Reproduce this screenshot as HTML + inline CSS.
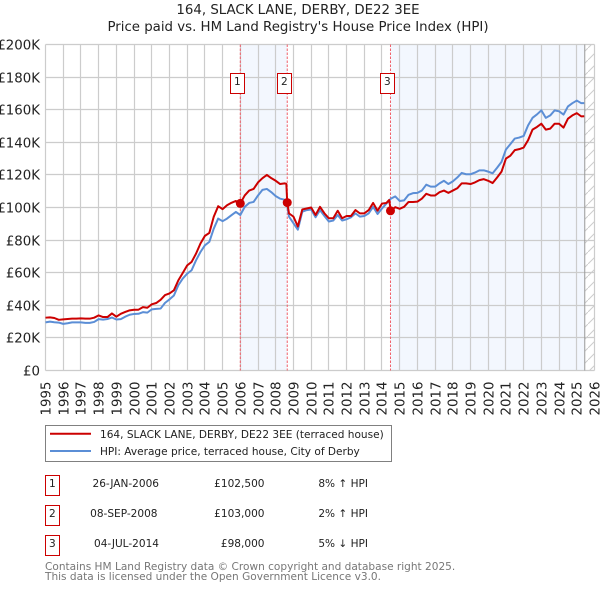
<!DOCTYPE html>
<html>
<head>
<meta charset="utf-8">
<style>
html,body{margin:0;padding:0;background:#fff;width:600px;height:590px;overflow:hidden}
svg{display:block;font-family:"DejaVu Sans","Liberation Sans",sans-serif}
</style>
</head>
<body>
<svg id="chart" xmlns="http://www.w3.org/2000/svg" width="600" height="590" viewBox="0 0 600 590">
  <defs>
    <pattern id="hatch" width="12" height="12" patternUnits="userSpaceOnUse">
      <path d="M-1 13L13 -1" stroke="#ccc" stroke-width="1" fill="none"/>
    </pattern>
  </defs>
  <text x="298" y="14" text-anchor="middle" font-size="13.33" fill="#222">164, SLACK LANE, DERBY, DE22 3EE</text>
  <text x="298" y="31" text-anchor="middle" font-size="13.33" fill="#222">Price paid vs. HM Land Registry's House Price Index (HPI)</text>
  <g id="shades"></g>
  <g id="grid"></g>
  <g id="yticks"></g>
  <g id="xticks"></g>
  <g id="series"></g>
  <g id="sales"></g>

  <g>
    <rect x="45.5" y="425.5" width="346" height="36" fill="#fff" stroke="#808080"/>
    <line x1="50" x2="91" y1="433.8" y2="433.8" stroke="#cc0000" stroke-width="2"/>
    <text x="100" y="438" font-size="10.55" fill="#222">164, SLACK LANE, DERBY, DE22 3EE (terraced house)</text>
    <line x1="50" x2="91" y1="451" y2="451" stroke="#5b8ed6" stroke-width="2"/>
    <text x="100" y="455" font-size="10.55" fill="#222">HPI: Average price, terraced house, City of Derby</text>
  </g>

  <g font-size="10.55" fill="#222">
    <g>
      <rect x="45.5" y="475.5" width="14" height="20" fill="#fff" stroke="#cc0000"/>
      <text x="52.3" y="487" text-anchor="middle">1</text>
      <text x="159" y="487" text-anchor="end">26-JAN-2006</text>
      <text x="264.5" y="487" text-anchor="end">£102,500</text>
      <text x="368" y="487" text-anchor="end">8% ↑ HPI</text>
    </g>
    <g>
      <rect x="45.5" y="505.5" width="14" height="20" fill="#fff" stroke="#cc0000"/>
      <text x="52.3" y="517" text-anchor="middle">2</text>
      <text x="157.5" y="517" text-anchor="end">08-SEP-2008</text>
      <text x="264.5" y="517" text-anchor="end">£103,000</text>
      <text x="368" y="517" text-anchor="end">2% ↑ HPI</text>
    </g>
    <g>
      <rect x="45.5" y="535.5" width="14" height="20" fill="#fff" stroke="#cc0000"/>
      <text x="52.3" y="547" text-anchor="middle">3</text>
      <text x="159" y="547" text-anchor="end">04-JUL-2014</text>
      <text x="264.5" y="547" text-anchor="end">£98,000</text>
      <text x="368" y="547" text-anchor="end">5% ↓ HPI</text>
    </g>
  </g>

  <text x="45" y="570" font-size="10.55" fill="#777">Contains HM Land Registry data © Crown copyright and database right 2025.</text>
  <text x="45" y="580" font-size="10.55" fill="#777">This data is licensed under the Open Government Licence v3.0.</text>
</svg>
<script>
const yearTicks = [1995,1996,1997,1998,1999,2000,2001,2002,2003,2004,2005,2006,2007,2008,2009,2010,2011,2012,2013,2014,2015,2016,2017,2018,2019,2020,2021,2022,2023,2024,2025,2026];
const priceTicks = [0,20,40,60,80,100,120,140,160,180,200];
const priceTickLabels = ['£0','£20K','£40K','£60K','£80K','£100K','£120K','£140K','£160K','£180K','£200K'];
const dates = [
1995,1995.25,1995.5,1995.75, 1996,1996.25,1996.5,1996.75, 1997,1997.25,1997.5,1997.75,
1998,1998.25,1998.5,1998.75, 1999,1999.25,1999.5,1999.75, 2000,2000.25,2000.5,2000.75,
2001,2001.25,2001.5,2001.75, 2002,2002.25,2002.5,2002.75, 2003,2003.25,2003.5,2003.75,
2004,2004.25,2004.5,2004.75, 2005,2005.25,2005.5,2005.75, 2006,2006.25,2006.5,2006.75,
2007,2007.25,2007.5,2007.75, 2008,2008.25,2008.5,2008.6,2008.65,2008.75,
2009,2009.25,2009.5,2009.75, 2010,2010.25,2010.5,2010.75, 2011,2011.25,2011.5,2011.75,
2012,2012.25,2012.5,2012.75, 2013,2013.25,2013.5,2013.75, 2014,2014.25,2014.4,2014.5,2014.75,
2015,2015.25,2015.5,2015.75, 2016,2016.25,2016.5,2016.75, 2017,2017.25,2017.5,2017.75,
2018,2018.25,2018.5,2018.75, 2019,2019.25,2019.5,2019.75, 2020,2020.25,2020.5,2020.75,
2021,2021.25,2021.5,2021.75, 2022,2022.25,2022.5,2022.75, 2023,2023.25,2023.5,2023.75,
2024,2024.25,2024.5,2024.75, 2025,2025.25,2025.42];
const hpiValues = [
29.5,30,29.6,29.4, 28.6,29,29.5,29.5, 29.5,29.2,29.2,29.8,
31.5,31.2,31.6,32.5, 31.3,31.5,33,34.2, 34.7,34.8,35.8,35.5,
37.5,37.8,38,41.5, 43.6,46,52.3,56.4, 59.4,61.5,67.6,72.7,
76.8,78.9,87,93.2, 91.6,93.2,95.3,97.3, 95.4,100.4,102.8,103.4,
107.4,110.8,111.4,109.4, 107,105.4,104.8,104,101,94.4,
90.4,86.4,97.4,98.4, 98.8,94,98.4,94.8, 91.4,92,95.4,92,
92.8,94,96.4,94.4, 94.8,96.4,100.4,96, 99.4,102.4,104.4,105.4,106.8,
104,104.4,107.8,108.8, 109,110.4,114,112.8, 112.8,114.8,116.4,114.4,
116,118.4,121.2,120.4, 120.4,121.4,122.8,122.8, 122,121,124.4,128,
135.6,138.9,142.3,142.9, 143.9,150.4,155,157.1, 159.6,155,156.5,159.6,
159,157,162,164, 165.6,164,164];
const priceValues = [
32.4,32.6,32.2,31.1, 31.4,31.6,31.8,31.8, 32,31.8,31.8,32.4,
33.8,32.8,32.8,35, 33,34.8,35.9,36.9, 37.3,37.3,38.9,38.5,
40.6,41.4,43.4,46.3, 47.3,49.2,55.3,59.8, 64.5,66.6,71.7,77.9,
82.6,84.4,94.3,100.8, 99,101.4,102.9,104, 102.5,107.4,110.4,111.4,
115.4,118,120,118, 116.4,114.4,114.8,114.5,103,96.4,
94.4,88.4,98.8,99.4, 100,95.4,100.4,96.4, 93.4,93.4,98,93.4,
94.8,94.8,98.4,96.4, 96.4,98.4,102.8,98, 102.4,102.8,104.6,98.2,100.2,
99.2,100.4,103.4,103.4, 103.6,105.4,108.4,107.4, 107.4,109.4,110.4,109,
110.4,111.8,114.8,114.8, 114.4,115.4,116.8,117.4, 116.4,115,118.4,122,
130,131.8,135.2,135.8, 136.8,141.3,147.8,149.4, 151.4,147.8,148.4,151.4,
151.4,149,154.5,156.5, 157.9,155.9,156];
const saleDates = [2006,2008.65,2014.48];
const saleValues = [102.5,103,98];
const saleLabels = ['1','2','3'];
const lastDataDate = 2025.45;

const NS = 'http://www.w3.org/2000/svg';
const left = 45.5, right = 594.5, top_ = 44.5, bottom = 370.5;
const firstYear = yearTicks[0], lastYear = yearTicks[yearTicks.length - 1];
const maxPrice = priceTicks[priceTicks.length - 1];
function xScale(d){ return left + (d - firstYear) * (right - left) / (lastYear - firstYear); }
function yScale(v){ return bottom - v * (bottom - top_) / maxPrice; }
function make(tag, attrs, parent){
  const el = document.createElementNS(NS, tag);
  for (const k in attrs) el.setAttribute(k, attrs[k]);
  parent.appendChild(el);
  return el;
}
const shades = document.getElementById('shades');
const grid = document.getElementById('grid');
const yticks = document.getElementById('yticks');
const xticks = document.getElementById('xticks');
const series = document.getElementById('series');
const sales = document.getElementById('sales');

// shaded ownership periods and hatched no-data zone
const shadeA = make('rect', {x:xScale(saleDates[0]), y:top_, width:xScale(saleDates[1])-xScale(saleDates[0]), height:bottom-top_, fill:'#f3f7fe'}, shades);


const shadeB = make('rect', {x:xScale(saleDates[2]), y:top_, width:xScale(lastDataDate)-xScale(saleDates[2]), height:bottom-top_, fill:'#f3f7fe'}, shades);


const hatchZone = make('rect', {x:xScale(lastDataDate), y:top_, width:right-xScale(lastDataDate), height:bottom-top_, fill:'url(#hatch)'}, shades);



yearTicks.forEach(function(yr){
  const px = Math.round(xScale(yr) - 0.5) + 0.5;
  const line = make('line', {x1:px, x2:px, y1:top_, y2:bottom, stroke:'#ccc', 'stroke-width':1.2}, grid);
  
  
  const label = make('text', {x:0, y:0, transform:'translate(' + (px + 4.8) + ',' + 415.5 + ') rotate(-90)', 'font-size':13.33, fill:'#222'}, xticks);
  
  
  label.textContent = String(yr);
});
priceTicks.forEach(function(v, i){
  const py = Math.round(yScale(v) - 0.5) + 0.5;
  const line = make('line', {x1:left, x2:right, y1:py, y2:py, stroke:'#ccc', 'stroke-width':1.2}, grid);
  
  
  const label = make('text', {x:40, y:py + 5, 'text-anchor':'end', 'font-size':13.33, fill:'#222'}, yticks);
  
  
  label.textContent = priceTickLabels[i];
});
const endLine = make('line', {x1:xScale(lastDataDate), x2:xScale(lastDataDate), y1:top_, y2:bottom, stroke:'#999', 'stroke-width':1}, grid);



function pathFrom(values){
  return values.map(function(v, i){
    return (i ? 'L' : 'M') + xScale(dates[i]).toFixed(2) + ' ' + yScale(v).toFixed(2);
  }).join('');
}

// sale vertical dashed lines sit beneath the series
saleDates.forEach(function(d){
  const dash = make('line', {x1:xScale(d), x2:xScale(d), y1:top_, y2:bottom, stroke:'#f0606a', 'stroke-width':1, 'stroke-dasharray':'2.5 1.5'}, series);
  
  
});

const hpiLine = make('path', {d:pathFrom(hpiValues), fill:'none', stroke:'#5b8ed6', 'stroke-width':2, 'stroke-linejoin':'round'}, series);


const priceLine = make('path', {d:pathFrom(priceValues), fill:'none', stroke:'#cc0000', 'stroke-width':2, 'stroke-linejoin':'round'}, series);



saleDates.forEach(function(d, i){
  const dot = make('circle', {cx:xScale(d), cy:yScale(saleValues[i]), r:4.5, fill:'#cc0000'}, sales);
  
  
  const box = make('rect', {x:Math.round(xScale(d)) - 9.5, y:73.5, width:14, height:20, fill:'#fff', stroke:'#cc0000', 'stroke-width':1}, sales);
  
  
  const txt = make('text', {x:Math.round(xScale(d)) - 2.7, y:85, 'text-anchor':'middle', 'font-size':10.55, fill:'#222'}, sales);
  
  
  txt.textContent = saleLabels[i];
});
</script>
</body>
</html>
